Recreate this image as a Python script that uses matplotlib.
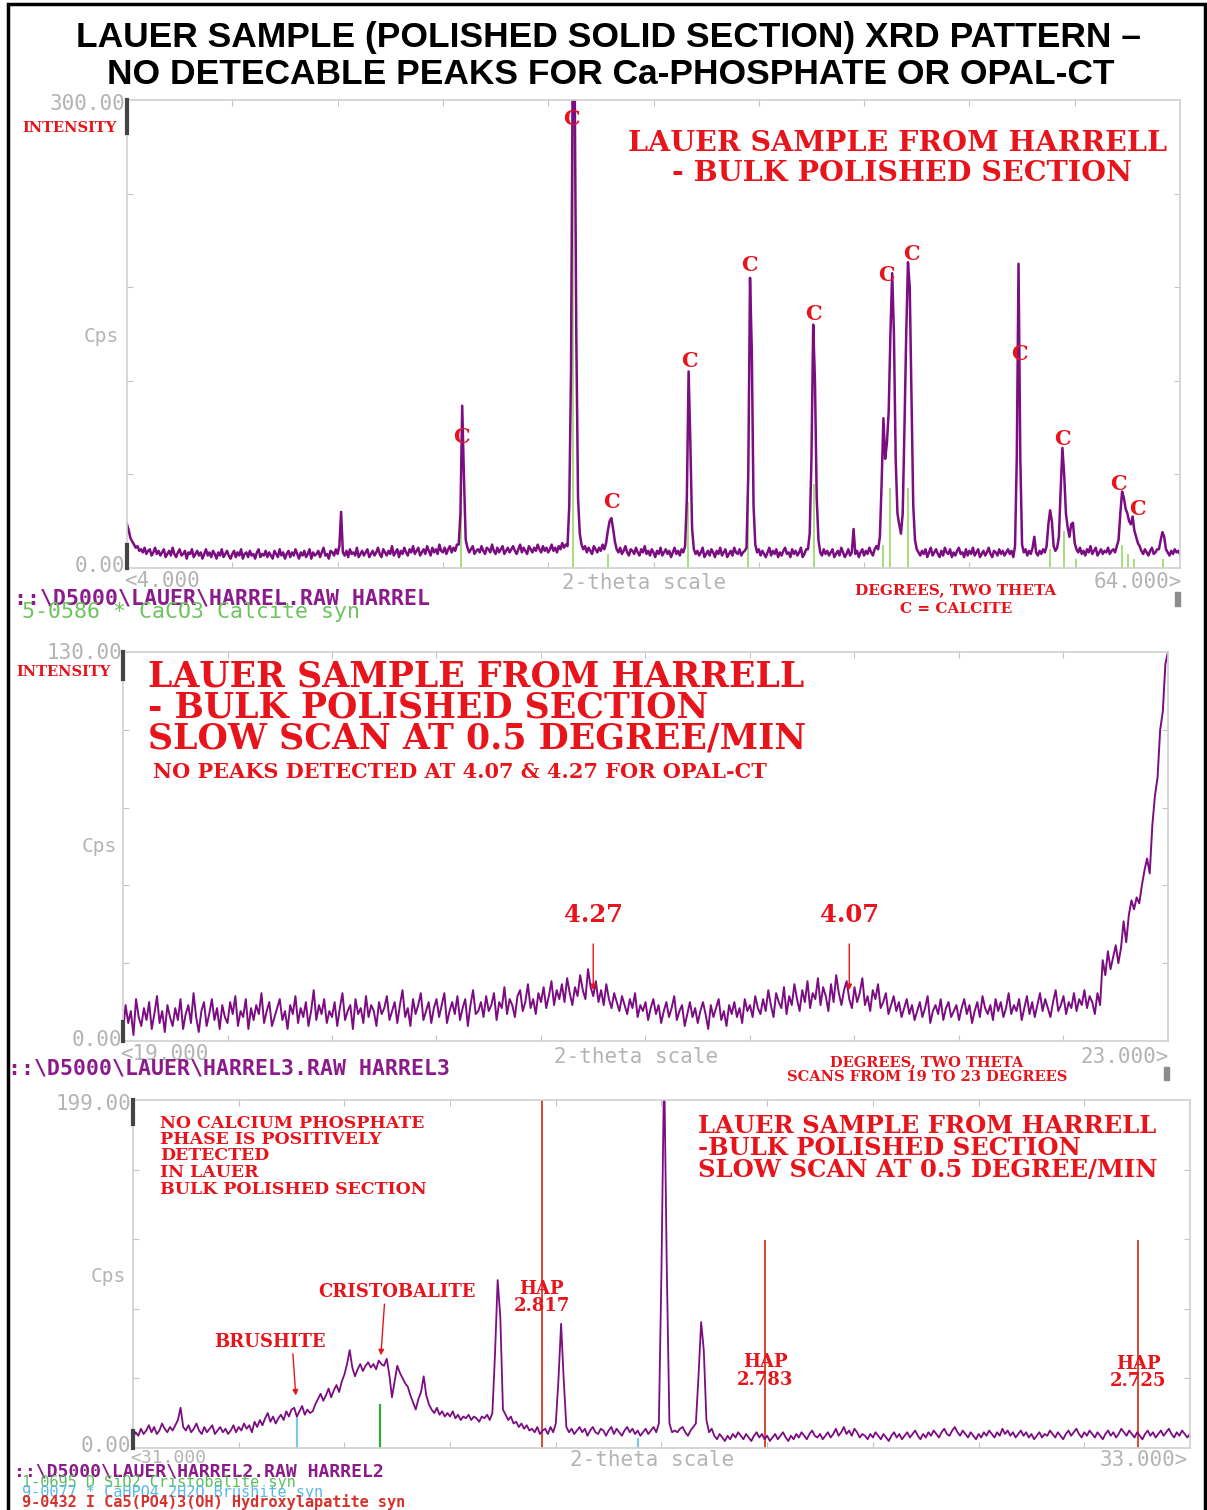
import numpy as np
import matplotlib
matplotlib.use('Agg')
import matplotlib.pyplot as plt
from matplotlib.patches import Rectangle

W, H = 1207, 1510

# ---------------- Panel 1 : full scan 4-64 deg ----------------
p1_start, p1_step = 4.0, 0.1
p1_counts = [
    28, 24, 19, 17, 15, 13, 14, 11, 12, 10, 13, 9, 11, 12, 8, 10, 13, 9, 11, 8,
    10, 12, 7, 9, 11, 8, 13, 9, 7, 10, 12, 8, 9, 11, 6, 10, 9, 12, 7, 9,
    11, 8, 10, 6, 9, 12, 8, 10, 7, 11, 9, 6, 10, 8, 12, 7, 9, 11, 8, 6,
    9, 11, 7, 10, 8, 12, 6, 9, 10, 7, 11, 8, 9, 6, 10, 12, 7, 9, 8, 11,
    7, 10, 8, 6, 11, 9, 7, 12, 8, 10, 6, 9, 11, 7, 10, 8, 12, 9, 6, 10,
    8, 11, 7, 9, 12, 6, 10, 8, 9, 11, 7, 10, 13, 8, 9, 6, 11, 10, 8, 12,
    9, 14, 36, 10, 8, 11, 7, 12, 9, 10, 8, 13, 7, 9, 11, 8, 10, 12, 7, 9,
    11, 8, 10, 13, 9, 7, 12, 10, 8, 11, 9, 14, 8, 10, 12, 7, 11, 9, 13, 10,
    8, 12, 10, 14, 9, 11, 13, 8, 10, 12, 9, 14, 11, 8, 13, 10, 12, 9, 15, 11,
    10, 13, 9, 12, 14, 10, 13, 11, 15, 15, 35, 104, 58, 18, 13, 10, 12, 14, 9, 11,
    12, 10, 14, 11, 9, 13, 12, 10, 15, 11, 9, 13, 10, 12, 14, 9, 11, 13, 10, 12,
    14, 11, 9, 12, 15, 10, 13, 11, 9, 14, 12, 10, 13, 11, 15, 12, 10, 14, 11, 13,
    10, 12, 15, 11, 13, 10, 14, 12, 16, 13, 15, 14, 40, 126, 330, 330, 150, 45, 22, 15,
    12, 14, 10, 13, 11, 9, 14, 12, 10, 13, 11, 15, 12, 16, 24, 30, 32, 25, 17, 12,
    10, 13, 9, 11, 14, 10, 8, 12, 11, 9, 13, 10, 8, 12, 10, 14, 9, 11, 8, 12,
    10, 7, 11, 9, 13, 8, 10, 12, 9, 11, 7, 10, 13, 9, 11, 8, 12, 10, 14, 45,
    126, 80, 25, 12, 9, 11, 8, 10, 13, 7, 9, 11, 8, 12, 10, 7, 11, 9, 13, 8,
    10, 12, 7, 9, 11, 8, 13, 10, 9, 12, 8, 10, 11, 13, 60, 186, 140, 40, 15, 10,
    12, 8, 11, 9, 7, 10, 13, 8, 11, 9, 12, 7, 10, 8, 11, 13, 9, 10, 7, 12,
    9, 11, 8, 10, 13, 7, 9, 12, 12, 22, 70, 156, 120, 45, 18, 10, 8, 12, 9, 11,
    8, 10, 12, 7, 9, 11, 8, 13, 10, 7, 9, 12, 8, 10, 25, 9, 11, 7, 10, 12,
    8, 11, 9, 13, 10, 8, 12, 14, 12, 20, 55, 96, 70, 80, 100, 150, 189, 150, 70, 35,
    28, 22, 35, 90, 150, 196, 180, 110, 40, 18, 12, 10, 8, 11, 9, 12, 7, 10, 13, 8,
    10, 12, 9, 7, 11, 8, 13, 10, 9, 12, 7, 10, 8, 11, 13, 9, 10, 7, 12, 8,
    11, 9, 13, 8, 10, 12, 7, 9, 11, 8, 10, 13, 9, 7, 11, 10, 8, 12, 9, 11,
    8, 10, 12, 9, 11, 7, 14, 71, 195, 71, 15, 10, 12, 8, 11, 9, 13, 20, 10, 8,
    11, 9, 12, 10, 14, 28, 37, 30, 14, 11, 13, 20, 50, 77, 60, 35, 26, 20, 28, 29,
    16, 12, 10, 13, 9, 11, 8, 12, 10, 14, 9, 11, 13, 8, 10, 12, 9, 11, 10, 13,
    9, 11, 12, 10, 14, 18, 35, 49, 45, 38, 35, 30, 28, 33, 24, 20, 16, 14, 11, 9,
    12, 10, 8, 11, 13, 9, 10, 12, 12, 18, 23, 20, 12, 10, 8, 11, 9, 12, 10, 11,
    9,
]
calcite_2theta = [23.022, 29.405, 31.420, 35.966, 39.402, 43.149, 47.103, 47.489,
                  48.512, 56.565, 57.402, 58.080, 60.670, 61.017, 61.368, 63.059]
calcite_cps = [36, 300, 9, 42, 54, 54, 15, 51, 51, 12, 24, 6, 15, 9, 6, 6]
c_label_2theta = [29.30, 23.03, 31.58, 36.02, 39.44, 43.09, 47.30, 48.67, 54.83, 57.28, 60.47, 61.55]
c_label_cps = [288, 84, 42, 133, 194, 163, 188, 201, 137, 83, 54, 38]

# ---------------- Panel 2 : slow scan 19-23 deg ----------------
p2_start, p2_step = 19.0, 0.01
p2_counts = [
    3, 12, 6, 10, 2, 14, 8, 5, 11, 7, 13, 4, 9, 15, 6, 10, 3, 12, 8, 5,
    11, 7, 14, 4, 9, 12, 6, 16, 8, 3, 10, 13, 5, 9, 14, 7, 11, 4, 12, 8,
    6, 13, 9, 15, 5, 10, 8, 14, 4, 11, 7, 12, 9, 16, 6, 10, 13, 5, 8, 11,
    14, 7, 10, 4, 12, 9, 15, 6, 11, 8, 13, 5, 10, 17, 7, 12, 9, 14, 6, 10,
    8, 13, 5, 11, 16, 7, 10, 12, 4, 14, 9, 11, 6, 15, 8, 12, 10, 5, 13, 9,
    11, 15, 7, 10, 13, 6, 12, 17, 8, 11, 5, 14, 9, 12, 16, 7, 10, 13, 6, 11,
    14, 8, 12, 16, 6, 10, 13, 9, 15, 7, 11, 14, 5, 12, 17, 9, 10, 13, 8, 15,
    10, 12, 16, 7, 13, 11, 18, 9, 14, 12, 8, 15, 17, 10, 13, 19, 11, 14, 9, 16,
    13, 18, 11, 15, 20, 12, 17, 14, 19, 13, 21, 16, 12, 18, 15, 22, 17, 14, 24, 18,
    15, 20, 13, 17, 12, 19, 14, 11, 16, 13, 10, 15, 12, 9, 14, 11, 16, 8, 12, 10,
    13, 7, 11, 14, 9, 12, 6, 10, 13, 8, 11, 15, 7, 10, 12, 5, 9, 13, 8, 11,
    6, 10, 13, 9, 4, 12, 8, 11, 14, 7, 10, 5, 12, 9, 13, 8, 11, 6, 14, 10,
    12, 8, 15, 11, 9, 14, 10, 17, 12, 8, 16, 13, 11, 18, 9, 15, 12, 19, 14, 10,
    17, 13, 20, 11, 16, 14, 21, 12, 18, 15, 10, 19, 13, 22, 16, 12, 17, 20, 14, 11,
    18, 13, 16, 21, 12, 15, 10, 17, 14, 19, 11, 13, 16, 9, 12, 15, 10, 13, 8, 11,
    14, 9, 12, 7, 10, 13, 8, 11, 15, 6, 10, 12, 9, 14, 7, 11, 13, 8, 10, 12,
    7, 11, 14, 9, 12, 6, 10, 13, 8, 15, 11, 9, 12, 7, 14, 10, 13, 8, 11, 16,
    9, 12, 10, 14, 7, 11, 15, 9, 13, 8, 12, 16, 10, 14, 11, 8, 13, 17, 10, 12,
    15, 9, 13, 11, 16, 10, 14, 12, 17, 11, 15, 13, 9, 16, 12, 27, 22, 30, 24, 28,
    32, 26, 31, 40, 33, 42, 47, 44, 48, 46, 52, 57, 61, 56, 72, 82, 88, 104, 110, 126,
    130,
]
opal_labels = ['4.27', '4.07']
opal_2theta = [20.80, 21.78]

# ---------------- Panel 3 : slow scan 31-33 deg ----------------
p3_start, p3_step = 31.0, 0.005
p3_counts = [
    6, 9, 7, 11, 8, 10, 13, 9, 12, 8, 10, 14, 11, 9, 12, 10, 13, 16, 23, 12,
    10, 13, 9, 11, 14, 10, 8, 12, 9, 11, 13, 8, 10, 12, 9, 11, 8, 10, 13, 9,
    12, 10, 14, 11, 13, 9, 15, 12, 16, 13, 17, 20, 15, 18, 14, 17, 19, 16, 21, 18,
    22, 23, 18, 21, 24, 19, 22, 20, 21, 25, 28, 31, 27, 30, 34, 29, 33, 36, 32, 38,
    42, 48, 56, 46, 41, 45, 48, 44, 47, 49, 46, 48, 45, 50, 48, 47, 51, 42, 29, 38,
    47, 43, 40, 37, 35, 30, 26, 22, 28, 32, 41, 30, 25, 22, 20, 23, 19, 21, 18, 20,
    18, 21, 17, 19, 16, 18, 17, 19, 16, 18, 17, 15, 18, 17, 19, 16, 20, 54, 96, 75,
    22, 19, 16, 18, 14, 15, 12, 14, 11, 13, 10, 11, 9, 12, 8, 10, 11, 8, 12, 9,
    14, 39, 71, 39, 12, 9, 11, 8, 10, 12, 9, 11, 7, 10, 12, 9, 8, 11, 10, 7,
    10, 12, 8, 11, 9, 7, 10, 12, 9, 11, 8, 10, 7, 9, 11, 8, 10, 12, 9, 14,
    103, 220, 103, 14, 9, 10, 9, 11, 12, 9, 7, 10, 12, 14, 41, 72, 56, 16, 9, 11,
    7, 5, 8, 6, 4, 7, 5, 8, 6, 9, 7, 5, 8, 6, 4, 7, 9, 6, 8, 5,
    7, 4, 6, 8, 5, 7, 9, 6, 4, 7, 5, 8, 6, 9, 7, 5, 8, 10, 7, 6,
    8, 5, 7, 9, 6, 8, 11, 7, 9, 12, 8, 10, 7, 11, 9, 6, 8, 7, 5, 8,
    6, 9, 7, 5, 8, 6, 4, 7, 9, 6, 8, 5, 7, 9, 6, 8, 10, 7, 5, 8,
    6, 9, 7, 10, 8, 6, 9, 11, 8, 7, 10, 12, 9, 7, 10, 8, 6, 9, 7, 5,
    8, 6, 9, 7, 10, 8, 6, 9, 7, 11, 8, 10, 7, 9, 6, 8, 10, 7, 9, 6,
    8, 5, 7, 9, 6, 8, 7, 10, 8, 6, 9, 7, 5, 8, 10, 7, 9, 11, 8, 6,
    9, 7, 10, 8, 6, 9, 7, 5, 8, 10, 7, 9, 6, 8, 11, 9, 7, 10, 8, 6,
    9, 7, 5, 8, 10, 7, 9, 6, 8, 10, 7, 9, 11, 8, 6, 9, 7, 10, 8, 6,
    8,
]
hap_2theta = [31.773, 32.196, 32.902]
hap_cps = [199, 119, 119]
hap_labels = ['HAP\n2.817', 'HAP\n2.783', 'HAP\n2.725']
crist_2theta = [31.467]
crist_cps = [25]
brush_2theta = [31.310, 31.955]
brush_cps = [19, 6]

# ---------------- styling ----------------
PURPLE = '#7b0c82'
RED = '#e8141c'
GRAY = '#b4b4b4'
SERIF = ['DejaVu Serif']
MONO = ['DejaVu Sans Mono']

fig = plt.figure(figsize=(W / 100, H / 100), dpi=100)
fig.patch.set_facecolor('white')


def px_axes(left, top, right, bottom):
    return fig.add_axes([left / W, 1 - bottom / H, (right - left) / W, (bottom - top) / H])


def ftext(x, y, s, **kw):
    kw.setdefault('va', 'center')
    return fig.text(x / W, 1 - y / H, s, **kw)


def style_axes(ax, xlim, ylim, xticks, yticks):
    ax.set_xlim(*xlim)
    ax.set_ylim(*ylim)
    ax.set_xticks(xticks)
    ax.set_yticks(yticks)
    ax.tick_params(direction='in', length=4, width=0.8, colors='#c4c4c4',
                   top=True, right=True, labelbottom=False, labelleft=False)
    for s in ax.spines.values():
        s.set_color('#cfcfcf')
        s.set_linewidth(1.2)
    ax.axvline(xlim[0], ymin=0.93, ymax=1.0, color='#444444', lw=3, zorder=6, clip_on=False)
    ax.axvline(xlim[0], ymin=0.0, ymax=0.05, color='#444444', lw=3, zorder=6, clip_on=False)


# outer frame
fig.patches.append(Rectangle((8 / W, -0.01), (1205 - 8) / W, 1 - 4 / H + 0.01,
                             transform=fig.transFigure, fill=False, ec='black', lw=2.5))

# title
ftext(609, 37, 'LAUER SAMPLE (POLISHED SOLID SECTION) XRD PATTERN –', ha='center',
      fontsize=25.5, fontweight='bold', family=['Liberation Sans', 'DejaVu Sans'])
ftext(611, 75, 'NO DETECABLE PEAKS FOR Ca-PHOSPHATE OR OPAL-CT', ha='center',
      fontsize=25.5, fontweight='bold', family=['Liberation Sans', 'DejaVu Sans'])

# ============ Panel 1 ============
ax1 = px_axes(127, 100, 1180, 568)
x1 = p1_start + p1_step * np.arange(len(p1_counts))
ax1.vlines(calcite_2theta, 0, calcite_cps, colors='#9fdc6e', lw=1.3, zorder=1)
ax1.plot(x1, p1_counts, color=PURPLE, lw=1.8, zorder=2)
style_axes(ax1, (4, 64), (0, 300), np.arange(10, 64, 6), [60, 120, 180, 240])
for xx, yy in zip(c_label_2theta, c_label_cps):
    ax1.text(xx, yy, 'C', color=RED, fontsize=15, fontweight='bold', family=SERIF,
             ha='center', va='center', zorder=5)
ax1.text(0.732, 0.906, 'LAUER SAMPLE FROM HARRELL', transform=ax1.transAxes, color=RED,
         fontsize=20.5, fontweight='bold', family=SERIF, ha='center', va='center')
ax1.text(0.736, 0.843, '- BULK POLISHED SECTION', transform=ax1.transAxes, color=RED,
         fontsize=20.5, fontweight='bold', family=SERIF, ha='center', va='center')

ftext(125, 104, '300.00', ha='right', color=GRAY, fontsize=15, family=MONO)
ftext(101, 336, 'Cps', ha='center', color=GRAY, fontsize=14, family=MONO)
ftext(125, 566, '0.00', ha='right', color=GRAY, fontsize=15, family=MONO)
ftext(69, 128, 'INTENSITY', ha='center', color=RED, fontsize=10.5, fontweight='bold', family=SERIF)
ftext(124, 581, '<4.000', ha='left', color=GRAY, fontsize=15, family=MONO)
ftext(644, 583, '2-theta scale', ha='center', color=GRAY, fontsize=15, family=MONO)
ftext(1182, 582, '64.000>', ha='right', color=GRAY, fontsize=15, family=MONO)
ftext(14, 598, '::\\D5000\\LAUER\\HARREL.RAW HARREL', ha='left', color='#8b1a8b',
      fontsize=15.5, fontweight='bold', family=MONO)
ftext(22, 612, '5-0586 * CaCO3 Calcite syn', ha='left', color='#6cc45c', fontsize=15.5, family=MONO)
ftext(956, 590, 'DEGREES, TWO THETA', ha='center', color=RED, fontsize=11, fontweight='bold', family=SERIF)
ftext(956, 609, 'C = CALCITE', ha='center', color=RED, fontsize=11, fontweight='bold', family=SERIF)
fig.patches.append(Rectangle((1175 / W, 1 - 606 / H), 5 / W, 14 / H, transform=fig.transFigure,
                             color='#8c8c8c'))

# ============ Panel 2 ============
ax2 = px_axes(123, 652, 1168, 1041)
x2 = p2_start + p2_step * np.arange(len(p2_counts))
ax2.plot(x2, p2_counts, color=PURPLE, lw=1.4, zorder=2)
style_axes(ax2, (19, 23), (0, 130), np.arange(19.4, 22.9, 0.4), [26, 52, 78, 104])
txt_kw = dict(transform=ax2.transAxes, color=RED, fontweight='bold', family=SERIF,
              ha='left', va='center')
ax2.text(0.024, 0.937, 'LAUER SAMPLE FROM HARRELL', fontsize=25, **txt_kw)
ax2.text(0.024, 0.857, '- BULK POLISHED SECTION', fontsize=25, **txt_kw)
ax2.text(0.024, 0.777, 'SLOW SCAN AT 0.5 DEGREE/MIN', fontsize=25, **txt_kw)
ax2.text(0.029, 0.692, 'NO PEAKS DETECTED AT 4.07 & 4.27 FOR OPAL-CT', fontsize=15, **txt_kw)
for lab, xx in zip(opal_labels, opal_2theta):
    ax2.annotate(lab, xy=(xx, 17), xytext=(xx, 42), textcoords='data', color=RED,
                 fontsize=17.5, fontweight='bold', family=SERIF, ha='center', va='center',
                 arrowprops=dict(arrowstyle='-|>', color=RED, lw=1.0, mutation_scale=8,
                                 shrinkA=10, shrinkB=0))

ftext(122, 653, '130.00', ha='right', color=GRAY, fontsize=15, family=MONO)
ftext(99, 847, 'Cps', ha='center', color=GRAY, fontsize=14, family=MONO)
ftext(122, 1040, '0.00', ha='right', color=GRAY, fontsize=15, family=MONO)
ftext(63, 672, 'INTENSITY', ha='center', color=RED, fontsize=10.5, fontweight='bold', family=SERIF)
ftext(120, 1054, '<19.000', ha='left', color=GRAY, fontsize=15, family=MONO)
ftext(636, 1057, '2-theta scale', ha='center', color=GRAY, fontsize=15, family=MONO)
ftext(1169, 1057, '23.000>', ha='right', color=GRAY, fontsize=15, family=MONO)
ftext(8, 1069, '::\\D5000\\LAUER\\HARREL3.RAW HARREL3', ha='left', color='#8b1a8b',
      fontsize=15.5, fontweight='bold', family=MONO)
ftext(927, 1062, 'DEGREES, TWO THETA', ha='center', color=RED, fontsize=10.5, fontweight='bold', family=SERIF)
ftext(927, 1077, 'SCANS FROM 19 TO 23 DEGREES', ha='center', color=RED, fontsize=10.5,
      fontweight='bold', family=SERIF)
fig.patches.append(Rectangle((1164 / W, 1 - 1080 / H), 5 / W, 13 / H, transform=fig.transFigure,
                             color='#8c8c8c'))

# ============ Panel 3 ============
ax3 = px_axes(133, 1100, 1190, 1448)
x3 = p3_start + p3_step * np.arange(len(p3_counts))
ax3.vlines(hap_2theta, 0, hap_cps, colors='#d9472e', lw=1.4, zorder=1)
ax3.vlines(crist_2theta, 0, crist_cps, colors='#34a834', lw=1.6, zorder=1)
ax3.vlines(brush_2theta, 0, brush_cps, colors='#7cc8ea', lw=1.6, zorder=1)
ax3.plot(x3, p3_counts, color=PURPLE, lw=1.3, zorder=2)
style_axes(ax3, (31, 33), (0, 199), np.arange(31.2, 32.9, 0.2), [39.8, 79.6, 119.4, 159.2])

left_lines = ['NO CALCIUM PHOSPHATE', 'PHASE IS POSITIVELY', 'DETECTED', 'IN LAUER',
              'BULK POLISHED SECTION']
for k, s in enumerate(left_lines):
    ftext(160, 1123 + k * 16.5, s, ha='left', color=RED, fontsize=12.5, fontweight='bold', family=SERIF)
right_lines = ['LAUER SAMPLE FROM HARRELL', '-BULK POLISHED SECTION', 'SLOW SCAN AT 0.5 DEGREE/MIN']
for k, s in enumerate(right_lines):
    ftext(698, 1126 + k * 22, s, ha='left', color=RED, fontsize=17.5, fontweight='bold', family=SERIF)

ann_kw = dict(color=RED, fontsize=13, fontweight='bold', family=SERIF, ha='center', va='center')
ax3.annotate('CRISTOBALITE', xy=(31.469, 53), xytext=(31.50, 89), textcoords='data',
             arrowprops=dict(arrowstyle='-|>', color=RED, lw=1.0, mutation_scale=8,
                             shrinkA=0, shrinkB=0, relpos=(0.42, 0.0)), **ann_kw)
ax3.annotate('BRUSHITE', xy=(31.308, 30), xytext=(31.26, 60.6), textcoords='data',
             arrowprops=dict(arrowstyle='-|>', color=RED, lw=1.0, mutation_scale=8,
                             shrinkA=0, shrinkB=0, relpos=(0.7, 0.0)), **ann_kw)
hap_label_y = [86, 44, 43]
for lab, xx, yy in zip(hap_labels, hap_2theta, hap_label_y):
    ax3.text(xx, yy, lab, linespacing=0.95, **ann_kw)

ftext(131, 1104, '199.00', ha='right', color=GRAY, fontsize=15, family=MONO)
ftext(108, 1276, 'Cps', ha='center', color=GRAY, fontsize=14, family=MONO)
ftext(131, 1446, '0.00', ha='right', color=GRAY, fontsize=15, family=MONO)
ftext(130, 1458, '<31.000', ha='left', color=GRAY, fontsize=13, family=MONO)
ftext(652, 1460, '2-theta scale', ha='center', color=GRAY, fontsize=15, family=MONO)
ftext(1188, 1460, '33.000>', ha='right', color=GRAY, fontsize=15, family=MONO)
ftext(14, 1471, '::\\D5000\\LAUER\\HARREL2.RAW HARREL2', ha='left', color='#8b1a8b',
      fontsize=13, fontweight='bold', family=MONO)
ftext(22, 1482, '1-0695 D SiO2 Cristobalite syn', ha='left', color='#5cc05c', fontsize=11, family=MONO)
ftext(22, 1492.5, '9-0077 * CaHPO4.2H2O Brushite syn', ha='left', color='#5ab8e8', fontsize=11, family=MONO)
ftext(22, 1502.5, '9-0432 I Ca5(PO4)3(OH) Hydroxylapatite syn', ha='left', color='#d8302a',
      fontsize=11, fontweight='bold', family=MONO)

fig.savefig('out.png', dpi=100, facecolor='white')
